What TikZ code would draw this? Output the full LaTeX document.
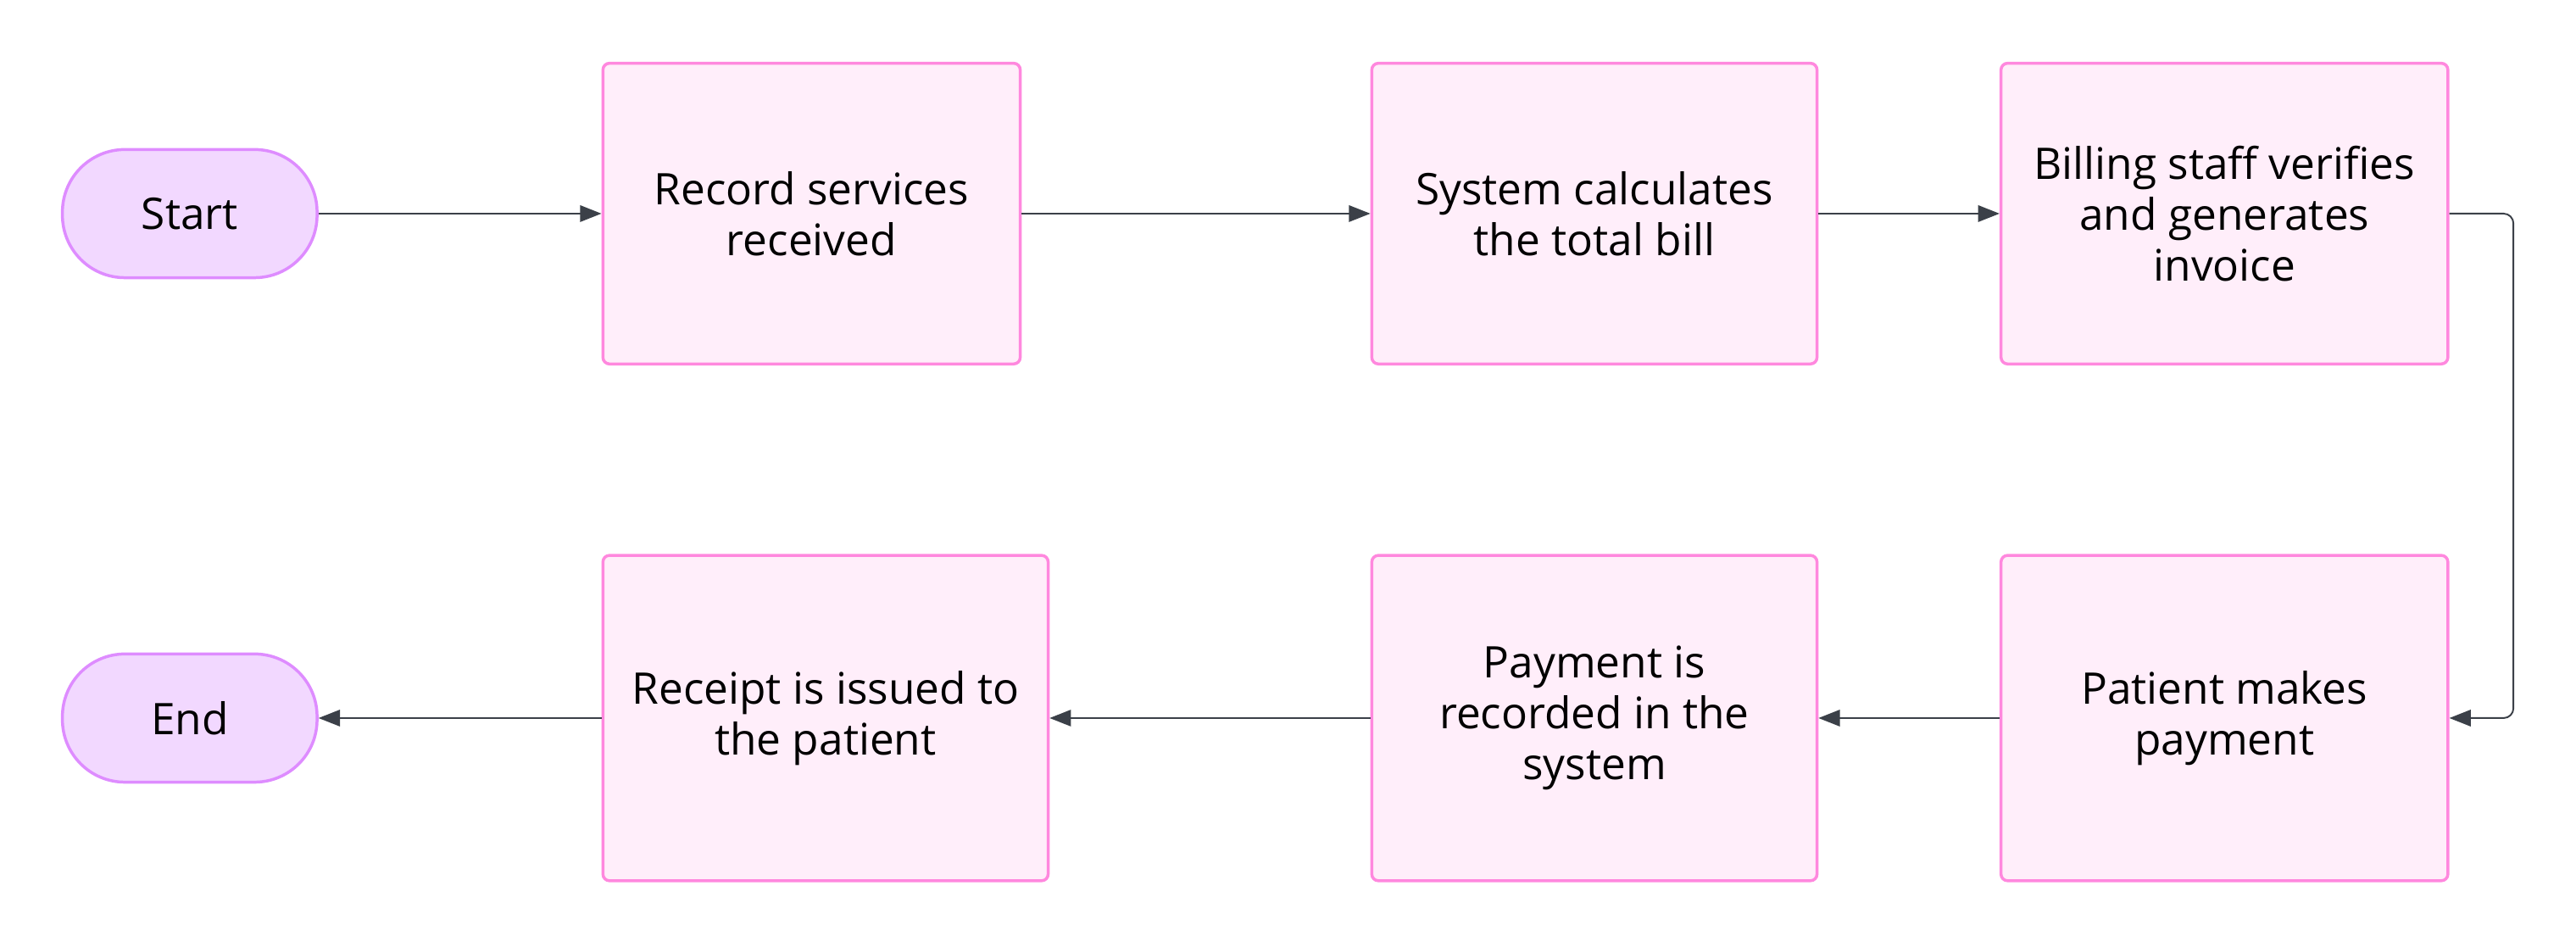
\documentclass[tikz,border=0pt]{standalone}
\usepackage{fontspec}
\setmainfont{Open Sans}
\usetikzlibrary{arrows.meta}

\definecolor{stepfill}{RGB}{255,238,250}
\definecolor{stepline}{RGB}{255,136,222}
\definecolor{termfill}{RGB}{242,216,255}
\definecolor{termline}{RGB}{222,140,255}
\definecolor{arrowgray}{RGB}{59,64,72}

\tikzset{
  stepbox/.style={draw=stepline,fill=stepfill,line width=1.8pt,rounded corners=4pt,
    minimum height=183pt,align=center,inner sep=0pt},
  termbox/.style={draw=termline,fill=termfill,line width=1.8pt,rounded corners=38pt,
    minimum width=155pt,minimum height=78pt,align=center,inner sep=0pt},
  flow/.style={draw=arrowgray,line width=1pt,-{Triangle[length=13pt,width=10pt]}}
}

\begin{document}
\begin{tikzpicture}[x=1pt,y=1pt,font=\fontsize{26.5}{31}\selectfont]
\useasboundingbox (0,0) rectangle (1568,576);

\begin{scope}
    \node[termbox] (Start) at (115.5,446) {Start};

    \node[stepbox,minimum width=254pt] (Record) at (494,446) {Record services\\received};
    \node[stepbox,minimum width=271pt] (Calc) at (970.5,446) {System calculates\\the total bill};
    \node[stepbox,minimum width=272pt] (Verify) at (1354,446) {Billing staff verifies\\and generates\\invoice};

    \node[stepbox,minimum width=272pt,minimum height=198pt] (Pay) at (1354,139) {Patient makes\\payment};
    \node[stepbox,minimum width=271pt,minimum height=198pt] (Logged) at (970.5,139) {Payment is\\recorded in the\\system};
    \node[stepbox,minimum width=271pt,minimum height=198pt] (Receipt) at (502.5,139) {Receipt is issued to\\the patient};

    \node[termbox] (End) at (115.5,139) {End};
\end{scope}

\begin{scope}
    \path[flow] (Start) -- (Record);
    \path[flow] (Record) -- (Calc);
    \path[flow] (Calc) -- (Verify);
    \path[flow,rounded corners=6pt] (Verify.east) -- ++(39,0) |- (Pay.east);
    \path[flow] (Pay) -- (Logged);
    \path[flow] (Logged) -- (Receipt);
    \path[flow] (Receipt) -- (End);
\end{scope}
\end{tikzpicture}
\end{document}
